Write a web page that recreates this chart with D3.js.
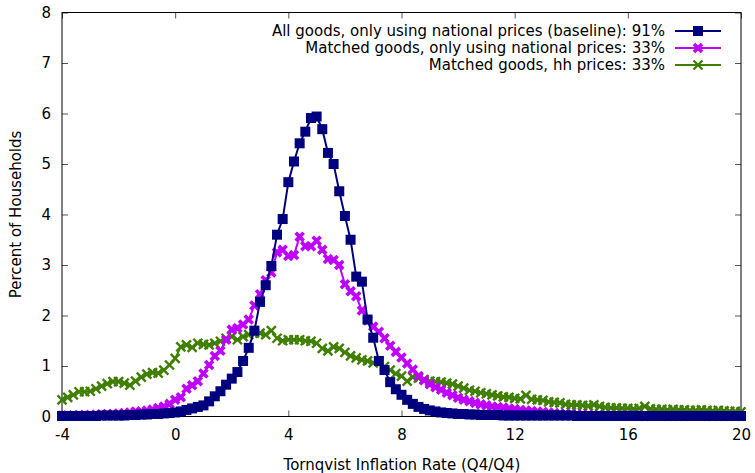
<!DOCTYPE html>
<html><head><meta charset="utf-8">
<script src="https://cdn.jsdelivr.net/npm/d3@7"></script>
<style>body{margin:0;background:#fff}svg{display:block;font-family:"DejaVu Sans",sans-serif}</style>
</head><body>
<svg id="chart" width="755" height="473"></svg>
<script>
// x grid: -4 .. 20 in steps of 0.2
const xStart = -4, xStep = 0.2;
const xTicks = [-4, 0, 4, 8, 12, 16, 20];
const yTicks = [0, 1, 2, 3, 4, 5, 6, 7, 8];
const seriesNames = [
  "All goods, only using national prices (baseline): 91%",
  "Matched goods, only using national prices: 33%",
  "Matched goods, hh prices: 33%"
];
const baseline = [
  0.01,0.01,0.01,0.01,0.01,0.01,0.01,0.02,0.02,0.02,
  0.02,0.02,0.03,0.03,0.04,0.04,0.05,0.05,0.06,0.07,
  0.08,0.10,0.13,0.16,0.19,0.22,0.30,0.40,0.50,0.63,
  0.75,0.88,1.10,1.36,1.70,2.27,2.60,2.98,3.60,3.91,
  4.64,5.05,5.41,5.64,5.91,5.94,5.69,5.22,5.00,4.46,
  3.97,3.50,2.77,2.67,1.92,1.56,1.10,0.92,0.68,0.54,
  0.43,0.33,0.25,0.19,0.15,0.12,0.10,0.08,0.07,0.06,
  0.05,0.05,0.04,0.04,0.03,0.03,0.03,0.03,0.02,0.02,
  0.02,0.02,0.02,0.02,0.02,0.02,0.02,0.02,0.02,0.02,
  0.02,0.01,0.01,0.01,0.01,0.01,0.01,0.01,0.01,0.01,
  0.01,0.01,0.01,0.01,0.01,0.01,0.01,0.01,0.01,0.01,
  0.01,0.01,0.01,0.01,0.01,0.01,0.01,0.01,0.01,0.01,
  0.01
];
const matchedNational = [
  0.02,0.02,0.02,0.03,0.03,0.03,0.04,0.04,0.05,0.05,
  0.06,0.07,0.08,0.10,0.10,0.12,0.14,0.17,0.20,0.25,
  0.33,0.38,0.55,0.62,0.70,0.85,1.02,1.20,1.30,1.52,
  1.72,1.75,1.82,1.92,2.20,2.42,2.70,2.85,3.25,3.30,
  3.18,3.20,3.56,3.37,3.37,3.48,3.30,3.12,3.10,3.00,
  2.62,2.48,2.38,2.10,1.90,1.78,1.68,1.55,1.40,1.28,
  1.17,1.05,0.93,0.80,0.72,0.64,0.58,0.53,0.47,0.42,
  0.37,0.33,0.30,0.27,0.24,0.22,0.20,0.19,0.18,0.16,
  0.15,0.13,0.12,0.11,0.10,0.09,0.08,0.07,0.06,0.05,
  0.05,0.04,0.04,0.03,0.03,0.02,0.02,0.02,0.02,0.02,
  0.02,0.02,0.01,0.01,0.01,0.01,0.01,0.01,0.01,0.01,
  0.01,0.01,0.01,0.01,0.01,0.01,0.01,0.01,0.01,0.01,
  0.01
];
const matchedHH = [
  0.33,0.38,0.43,0.49,0.49,0.50,0.55,0.60,0.65,0.69,
  0.69,0.66,0.62,0.70,0.78,0.84,0.87,0.86,0.92,1.02,
  1.15,1.38,1.42,1.37,1.45,1.43,1.42,1.45,1.49,1.55,
  1.58,1.52,1.58,1.62,1.65,1.65,1.62,1.70,1.55,1.50,
  1.52,1.52,1.52,1.50,1.49,1.45,1.35,1.30,1.38,1.35,
  1.27,1.20,1.16,1.12,1.10,1.06,1.09,0.99,0.92,0.85,
  0.80,0.70,0.78,0.76,0.73,0.70,0.69,0.68,0.66,0.64,
  0.60,0.56,0.52,0.50,0.47,0.45,0.43,0.41,0.39,0.38,
  0.36,0.35,0.42,0.34,0.33,0.32,0.29,0.28,0.27,0.24,
  0.23,0.23,0.22,0.21,0.23,0.20,0.18,0.17,0.17,0.16,
  0.16,0.15,0.16,0.20,0.15,0.14,0.14,0.13,0.14,0.13,
  0.13,0.12,0.12,0.13,0.12,0.11,0.12,0.11,0.10,0.10,
  0.09
];
const colors = ["#00007f", "#c000ff", "#3f7f00"];

const svg = d3.select("#chart");
const L = 62, R = 741, T = 12.5, B = 416.5;
const x = d3.scaleLinear().domain([-4, 20]).range([L, R]);
const y = d3.scaleLinear().domain([0, 8]).range([B, T]);

// axes
const fs = "15px";
const fmt = d => String(d);
const gx = svg.append("g").attr("transform", `translate(0,${B})`)
  .call(d3.axisBottom(x).tickValues(xTicks).tickFormat(fmt).tickSizeInner(-6).tickSizeOuter(0).tickPadding(13));
const gy = svg.append("g").attr("transform", `translate(${L},0)`)
  .call(d3.axisLeft(y).tickValues(yTicks).tickFormat(fmt).tickSizeInner(-6).tickSizeOuter(0).tickPadding(11));
const gxt = svg.append("g").attr("transform", `translate(0,${T})`)
  .call(d3.axisTop(x).tickValues(xTicks).tickSizeInner(-6).tickSizeOuter(0).tickFormat(""));
const gyr = svg.append("g").attr("transform", `translate(${R},0)`)
  .call(d3.axisRight(y).tickValues(yTicks).tickSizeInner(-6).tickSizeOuter(0).tickFormat(""));
[gx, gy, gxt, gyr].forEach(g => {
  g.select(".domain").remove();
  g.selectAll(".tick line").attr("stroke", "#555");
  g.selectAll("text").attr("font-size", fs).attr("fill", "#000").attr("font-family", "DejaVu Sans");
});
svg.append("rect").attr("x", L).attr("y", T).attr("width", R - L).attr("height", B - T)
  .attr("fill", "none").attr("stroke", "#000").attr("stroke-width", 1);

svg.append("text").attr("x", (L + R) / 2 + 0.5).attr("y", 470).attr("text-anchor", "middle")
  .attr("font-size", fs).text("Tornqvist Inflation Rate (Q4/Q4)");
svg.append("text").attr("transform", `translate(21,${(T + B) / 2}) rotate(-90)`)
  .attr("text-anchor", "middle").attr("font-size", fs).text("Percent of Households");

const allSeries = [baseline, matchedNational, matchedHH];
const line = d3.line().x(d => x(d[0])).y(d => y(d[1]));

function marker(g, type, cx, cy, color) {
  if (type === 0) {
    g.append("rect").attr("x", cx - 5).attr("y", cy - 5).attr("width", 10).attr("height", 10).attr("fill", color);
  } else {
    const s = type === 1 ? 4 : 4.5;
    const w = type === 1 ? 3.6 : 2.4;
    g.append("path").attr("d", `M${cx - s},${cy - s}L${cx + s},${cy + s}M${cx - s},${cy + s}L${cx + s},${cy - s}`)
      .attr("stroke", color).attr("stroke-width", w).attr("fill", "none");
    if (type === 1) {
      g.append("rect").attr("x", cx - 2.5).attr("y", cy - 2.5).attr("width", 5).attr("height", 5).attr("fill", color);
    }
  }
}

// draw order: green, magenta, blue on top
[2, 1, 0].forEach(si => {
  const data = allSeries[si].map((v, i) => [xStart + i * xStep, v]);
  const g = svg.append("g");
  g.append("path").datum(data).attr("d", line).attr("fill", "none")
    .attr("stroke", colors[si]).attr("stroke-width", 2);
  data.forEach(d => marker(g, si, x(d[0]), y(d[1]), colors[si]));
});

// legend
const legY = [31, 48, 65];
seriesNames.forEach((name, i) => {
  const g = svg.append("g");
  g.append("text").attr("x", 665).attr("y", legY[i]).attr("dy", "0.35em")
    .attr("text-anchor", "end").attr("font-size", fs).text(name);
  g.append("line").attr("x1", 675).attr("x2", 721).attr("y1", legY[i]).attr("y2", legY[i])
    .attr("stroke", colors[i]).attr("stroke-width", 2);
  marker(g, i, 698, legY[i], colors[i]);
});
</script>
</body></html>
